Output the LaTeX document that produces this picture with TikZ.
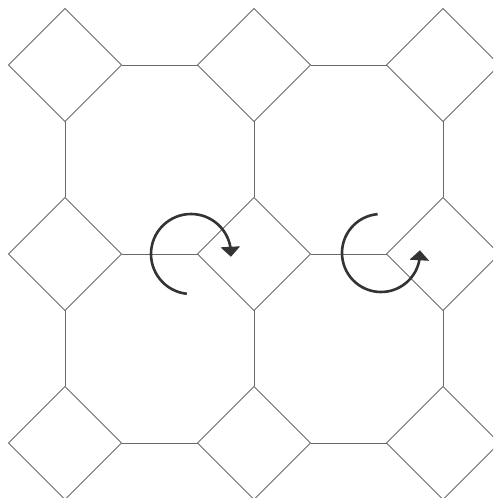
\documentclass[tikz,border=0pt]{standalone}
\usepackage{xcolor}
\usepackage{tikz}
\usetikzlibrary{arrows.meta,positioning,calc,shapes.geometric,bending}
\definecolor{ln}{HTML}{6A6A6A}
\definecolor{rt}{HTML}{333333}
\tikzset{
  tile/.style={draw=ln, line width=0.9pt, shape=diamond, aspect=1,
    minimum width=113pt, minimum height=113pt, inner sep=0pt, outer sep=0pt},
  bond/.style={draw=ln, line width=0.9pt},
  spin/.style={draw=rt, line width=2.6pt, -{Triangle[width=19pt,length=10pt]}}
}
\begin{document}
\begin{tikzpicture}[x=1pt,y=1pt]
  \useasboundingbox (0,0) rectangle (493,498);
  \clip (0,0) rectangle (493,498);
  \foreach \i in {0,1,2} {
    \foreach \j in {0,1,2} {
      \node[tile] (d\i\j) at ({65+189*\i},{433-189*\j}) {};
    }
  }
  \foreach \i/\k in {0/1,1/2} {
    \foreach \j in {0,1,2} {
      \draw[bond] (d\i\j.east) -- (d\k\j.west);
      \draw[bond] (d\j\i.south) -- (d\j\k.north);
    }
  }
  \coordinate (cw) at ($(d11)+(-63,0)$);
  \coordinate (ccw) at ($(d21)+(-62,1)$);
  \draw[spin] (cw) ++(264:40) arc[start angle=264, end angle=-4, radius=40];
  \draw[spin] (ccw) ++(95:39) arc[start angle=95, end angle=364, radius=39];
\end{tikzpicture}
\end{document}
